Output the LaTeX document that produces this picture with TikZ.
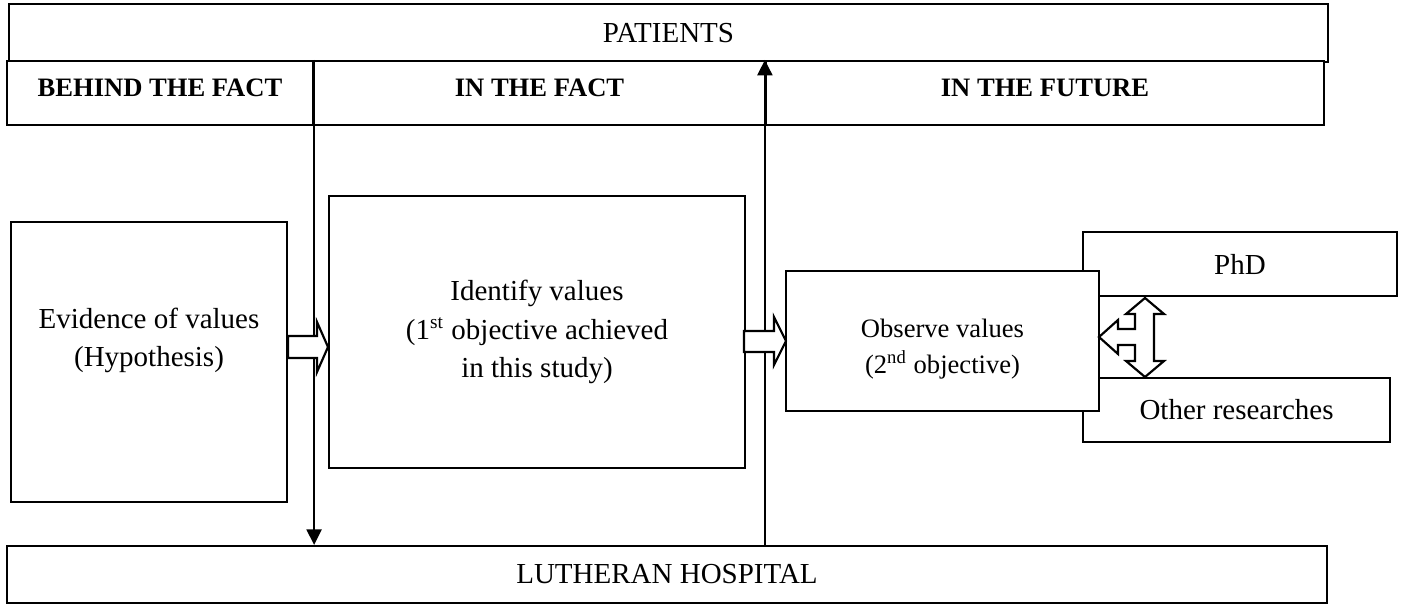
\documentclass[tikz,border=0pt]{standalone}
\usepackage{fontspec}
\setmainfont{Liberation Serif}
\usetikzlibrary{arrows.meta}

\begin{document}
\begin{tikzpicture}[x=0.4138pt, y=-0.4138pt, line width=0.9pt,
  box/.style 2 args={rectangle, draw=black, fill=white, inner sep=0pt,
    minimum width=#1*0.4138pt, minimum height=#2*0.4138pt,
    font=\fontsize{12}{16}\selectfont},
  hd/.style={font=\fontsize{11}{13}\selectfont\bfseries, text height=7.3pt, text depth=4pt},
  txt/.style={align=center, inner sep=0pt, font=\fontsize{12}{16}\selectfont},
  sml/.style={align=center, inner sep=0pt, font=\fontsize{11}{15}\selectfont},
  blk/.style={draw=black, fill=white, line width=0.9pt, line join=miter},
  arr/.style={-{Triangle[width=6.2pt,length=6.4pt]}}]
\useasboundingbox (0,0) rectangle (1404,604);

% top band
\node[box={1319}{58}]      (pat)    at (668.5,33) {PATIENTS};
\node[box={306}{64}, hd]   (behind) at (160,93)   {BEHIND THE FACT};
\node[box={453}{64}, hd]   (infact) at (539.5,93) {IN THE FACT};
\node[box={558}{64}, hd]   (future) at (1045,93)  {IN THE FUTURE};

% middle boxes
\node[box={276}{280}]      (ev)     at (149,362)  {};
\node[txt]                 (evtxt)  at (149,340.5) {Evidence of values\\(Hypothesis)};
\node[box={416}{272}, align=center] (id) at (537,332)
  {Identify values\\(1\textsuperscript{st} objective achieved\\in this study)};
\node[box={314}{64}]       (phd)    at (1240,264) {PhD};
\node[box={307}{64}]       (other)  at (1236.5,410) {Other researches};
\node[box={313}{140}]      (obs)    at (942.5,341) {};
\node[sml]                 (obstxt) at (942.5,349) {Observe values\\(2\textsuperscript{nd} objective)};

% bottom band
\node[box={1320}{57}]      (hosp)   at (667,574.5) {LUTHERAN HOSPITAL};

% thin arrows
\draw[arr] (behind.north east) -- (behind.north east |- hosp.north);
\draw[arr] (future.west |- hosp.north) -- (future.north west);

% block arrows
\draw[blk] (288,336) -- (317,336) -- (317,322) -- (328,347) -- (317,372)
  -- (317,358) -- (288,358) -- cycle;
\draw[blk] (744,331) -- (774,331) -- (774,317) -- (786,341) -- (774,365)
  -- (774,352) -- (744,352) -- cycle;
\draw[blk] (1099,337) -- (1118,320) -- (1118,329) -- (1135,329) -- (1135,314)
  -- (1126,314) -- (1145,298) -- (1164,314) -- (1154,314) -- (1154,361)
  -- (1164,361) -- (1145,377) -- (1126,361) -- (1135,361) -- (1135,345)
  -- (1118,345) -- (1118,354) -- cycle;
\end{tikzpicture}
\end{document}
